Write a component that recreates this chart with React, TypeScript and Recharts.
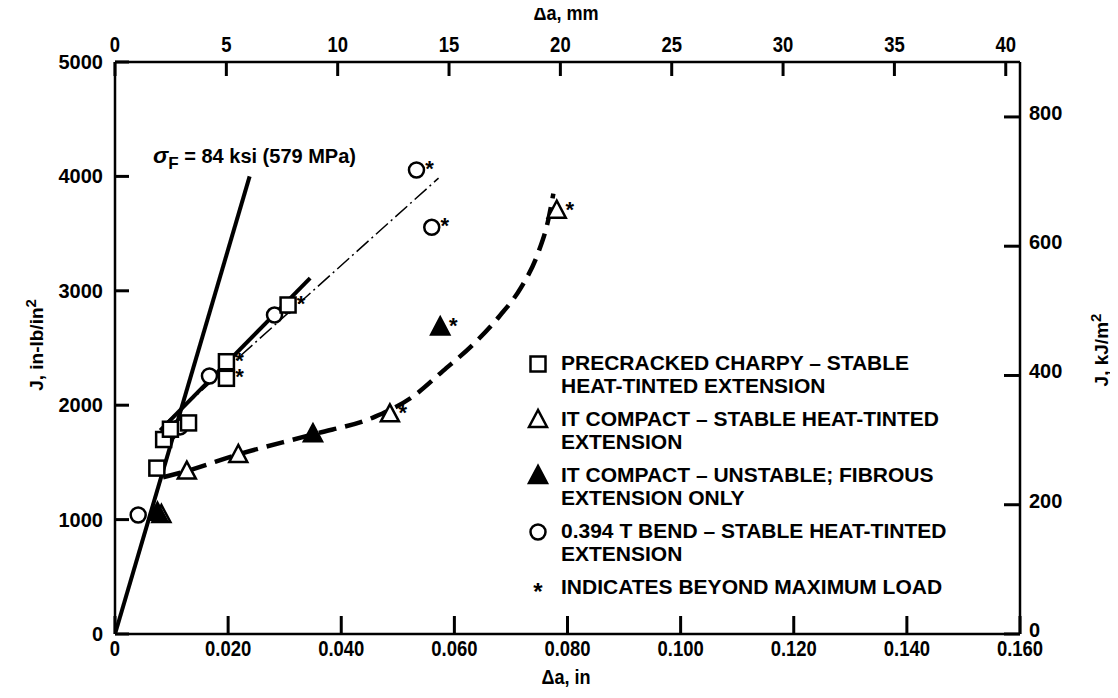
import React from 'react';
import { ComposedChart, Line, Scatter, XAxis, YAxis } from 'recharts';

// crack extension (in) vs J (in-lb/in^2); star = beyond maximum load
const charpy = [
  { x: 0.0074, y: 1450, star: false },
  { x: 0.0086, y: 1700, star: false },
  { x: 0.0098, y: 1790, star: false },
  { x: 0.013, y: 1845, star: false },
  { x: 0.0197, y: 2235, star: true },
  { x: 0.0197, y: 2380, star: true },
  { x: 0.0306, y: 2876, star: true },
];
const compactStable = [
  { x: 0.0082, y: 1040, star: false },
  { x: 0.0127, y: 1420, star: false },
  { x: 0.0218, y: 1565, star: false },
  { x: 0.0486, y: 1920, star: true },
  { x: 0.0781, y: 3700, star: true },
];
const compactUnstable = [
  { x: 0.0075, y: 1060, star: false },
  { x: 0.035, y: 1745, star: false },
  { x: 0.0575, y: 2680, star: true },
];
const tBend = [
  { x: 0.0041, y: 1040, star: false },
  { x: 0.0097, y: 1770, star: false },
  { x: 0.0115, y: 1810, star: false },
  { x: 0.0167, y: 2255, star: false },
  { x: 0.0282, y: 2788, star: true },
  { x: 0.0533, y: 4056, star: true },
  { x: 0.056, y: 3555, star: true },
];

// fitted lines
const blunting = [
  { x: 0, y: 0 },
  { x: 0.0238, y: 4000 },
];
const charpyFit = [
  { x: 0.008, y: 1780 },
  { x: 0.0345, y: 3110 },
];
const tBendFit = [
  { x: 0.0085, y: 1825 },
  { x: 0.0572, y: 3985 },
];
const compactFit = [
  { x: 0.0085, y: 1370 },
  { x: 0.0127, y: 1425 },
  { x: 0.0218, y: 1570 },
  { x: 0.035, y: 1745 },
  { x: 0.046, y: 1900 },
  { x: 0.0525, y: 2070 },
  { x: 0.058, y: 2300 },
  { x: 0.0635, y: 2540 },
  { x: 0.068, y: 2780 },
  { x: 0.0718, y: 3030 },
  { x: 0.0748, y: 3330 },
  { x: 0.0766, y: 3620 },
  { x: 0.0775, y: 3850 },
];

const inTicks = [0, 0.02, 0.04, 0.06, 0.08, 0.1, 0.12, 0.14, 0.16];
const mmTicks = [0, 5, 10, 15, 20, 25, 30, 35, 40];
const jTicks = [0, 1000, 2000, 3000, 4000, 5000];
const kjTicks = [0, 200, 400, 600, 800];

const legendItems = [
  { mark: 'square', lines: ['PRECRACKED CHARPY \u2013 STABLE', 'HEAT-TINTED EXTENSION'] },
  { mark: 'triangle', lines: ['IT COMPACT \u2013 STABLE HEAT-TINTED', 'EXTENSION'] },
  { mark: 'filled', lines: ['IT COMPACT \u2013 UNSTABLE; FIBROUS', 'EXTENSION ONLY'] },
  { mark: 'circle', lines: ['0.394 T BEND \u2013 STABLE HEAT-TINTED', 'EXTENSION'] },
  { mark: 'star', lines: ['INDICATES BEYOND MAXIMUM LOAD'] },
];

const sans = '"Liberation Sans", Arial, Helvetica, sans-serif';
const M = 6;
const frame = { stroke: '#000', strokeWidth: 2.5 };
const tickStroke = { stroke: '#000', strokeWidth: 3 };

const Star = ({ cx, cy }: { cx: number; cy: number }) => (
  <text x={cx + 13} y={cy + 6} textAnchor="middle" fontFamily={sans} fontWeight="bold" fontSize={22} fill="#000">*</text>
);

const Marker = ({ kind, cx, cy }: { kind: string; cx: number; cy: number }) => {
  if (kind === 'square') return <rect x={cx - 7.5} y={cy - 7.5} width={15} height={15} fill="#fff" stroke="#000" strokeWidth={2.5} />;
  if (kind === 'circle') return <circle cx={cx} cy={cy} r={7.5} fill="#fff" stroke="#000" strokeWidth={2.5} />;
  if (kind === 'triangle' || kind === 'filled')
    return (
      <polygon
        points={`${cx},${cy - 10} ${cx - 9},${cy + 7} ${cx + 9},${cy + 7}`}
        fill={kind === 'filled' ? '#000' : '#fff'}
        stroke="#000"
        strokeWidth={2.5}
      />
    );
  return <text x={cx} y={cy + 12} textAnchor="middle" fontFamily={sans} fontWeight="bold" fontSize={24}>*</text>;
};

const shapeFor = (kind: string) => (p: any) => (
  <g>
    <Marker kind={kind} cx={p.cx} cy={p.cy} />
    {p.payload && p.payload.star && <Star cx={p.cx} cy={p.cy} />}
  </g>
);

// condensed bold labels for the two horizontal axes
const CondText = ({ x, y, children }: { x: number; y: number; children: any }) => (
  <text transform={`translate(${x},${y}) scale(0.84,1)`} textAnchor="middle" fontFamily={sans} fontWeight="bold" fontSize={22} fill="#000">
    {children}
  </text>
);

const BottomTick = (p: any) => {
  const { x, y, payload } = p;
  const axisY = y - M + 18;
  const label = payload.value === 0 ? '0' : payload.value.toFixed(3);
  return <CondText x={x} y={axisY + 22}>{label}</CondText>;
};

const TopTick = (p: any) => {
  const { x, y, payload } = p;
  const axisY = y + M - 14;
  return <CondText x={x} y={axisY - 10}>{payload.value}</CondText>;
};

const LeftTick = (p: any) => {
  const { x, y, payload } = p;
  const axisX = x + M - 14;
  return (
    <text x={axisX - 12} y={y + 7} textAnchor="end" fontFamily={sans} fontWeight="bold" fontSize={20} fill="#000">{payload.value}</text>
  );
};

const RightTick = (p: any) => {
  const { x, y, payload } = p;
  const axisX = x - M + 16;
  return (
    <text x={axisX + 9} y={y + 3} textAnchor="start" fontFamily={sans} fontWeight="bold" fontSize={20} fill="#000">{payload.value}</text>
  );
};

const LegendMark = ({ kind }: { kind: string }) => (
  <svg width={30} height={30} style={{ display: 'block', overflow: 'visible', marginTop: -3 }}>
    <Marker kind={kind} cx={13} cy={15} />
  </svg>
);

export default function App() {
  return (
    <div style={{ position: 'relative', width: 1110, height: 690, fontFamily: sans, color: '#000' }}>
      <ComposedChart width={1110} height={690} margin={{ top: 0, right: 0, bottom: 0, left: 0 }}>
        <XAxis xAxisId="in" dataKey="x" type="number" orientation="bottom" domain={[0, 0.16]} ticks={inTicks} interval={0}
          height={64} tickSize={-18} tickMargin={M} tickLine={tickStroke} axisLine={frame} tick={(p: any) => <BottomTick {...p} />} allowDataOverflow />
        <XAxis xAxisId="mm" dataKey="x" type="number" orientation="top" domain={[0, 40.64]} ticks={mmTicks} interval={0}
          height={54} tickSize={-14} tickMargin={M} tickLine={tickStroke} axisLine={frame} tick={(p: any) => <TopTick {...p} />} allowDataOverflow />
        <YAxis yAxisId="J" dataKey="y" type="number" orientation="left" domain={[0, 5000]} ticks={jTicks} interval={0}
          width={107} tickSize={-14} tickMargin={M} tickLine={tickStroke} axisLine={frame} tick={(p: any) => <LeftTick {...p} />} allowDataOverflow />
        <YAxis yAxisId="kJ" dataKey="y" type="number" orientation="right" domain={[0, 885]} ticks={kjTicks} interval={0}
          width={98} tickSize={-16} tickMargin={M} tickLine={tickStroke} axisLine={frame} tick={(p: any) => <RightTick {...p} />} allowDataOverflow />

        <Line xAxisId="in" yAxisId="J" data={blunting} dataKey="y" type="linear" stroke="#000" strokeWidth={4} dot={false} activeDot={false} isAnimationActive={false} />
        <Line xAxisId="in" yAxisId="J" data={tBendFit} dataKey="y" type="linear" stroke="#000" strokeWidth={1.5} strokeDasharray="16 4 2 4" dot={false} activeDot={false} isAnimationActive={false} />
        <Line xAxisId="in" yAxisId="J" data={charpyFit} dataKey="y" type="linear" stroke="#000" strokeWidth={4} dot={false} activeDot={false} isAnimationActive={false} />
        <Line xAxisId="in" yAxisId="J" data={compactFit} dataKey="y" type="monotone" stroke="#000" strokeWidth={4.5} strokeDasharray="18 9" dot={false} activeDot={false} isAnimationActive={false} />

        <Scatter xAxisId="in" yAxisId="J" data={compactStable} shape={shapeFor('triangle')} isAnimationActive={false} />
        <Scatter xAxisId="in" yAxisId="J" data={compactUnstable} shape={shapeFor('filled')} isAnimationActive={false} />
        <Scatter xAxisId="in" yAxisId="J" data={tBend} shape={shapeFor('circle')} isAnimationActive={false} />
        <Scatter xAxisId="in" yAxisId="J" data={charpy} shape={shapeFor('square')} isAnimationActive={false} />
      </ComposedChart>

      {/* axis titles */}
      <div style={{ position: 'absolute', left: 558, top: 5, transform: 'translate(-50%, -50%) scaleX(0.86)', fontWeight: 'bold', fontSize: 21, whiteSpace: 'nowrap' }}>
        {'\u0394a, mm'}
      </div>
      <div style={{ position: 'absolute', left: 558, top: 669, transform: 'translate(-50%, -50%) scaleX(0.86)', fontWeight: 'bold', fontSize: 21, whiteSpace: 'nowrap' }}>
        {'\u0394a, in'}
      </div>
      <div style={{ position: 'absolute', left: 27, top: 337, transform: 'translate(-50%, -50%) rotate(-90deg)', fontWeight: 'bold', fontSize: 19, whiteSpace: 'nowrap' }}>
        J, in-lb/in<sup style={{ fontSize: 15 }}>2</sup>
      </div>
      <div style={{ position: 'absolute', left: 1092, top: 342, transform: 'translate(-50%, -50%) rotate(-90deg)', fontWeight: 'bold', fontSize: 19, whiteSpace: 'nowrap' }}>
        J, kJ/m<sup style={{ fontSize: 15 }}>2</sup>
      </div>

      {/* flow stress annotation */}
      <div style={{ position: 'absolute', left: 145, top: 134, fontWeight: 'bold', fontSize: 20, whiteSpace: 'nowrap' }}>
        <span style={{ fontStyle: 'italic', fontSize: 23 }}>{'\u03c3'}</span>
        <span style={{ fontSize: 17, position: 'relative', top: 6 }}>F</span>
        <span>{' = 84 ksi (579 MPa)'}</span>
      </div>

      {/* legend */}
      <div style={{ position: 'absolute', left: 517, top: 344, display: 'flex', flexDirection: 'column', gap: 11 }}>
        {legendItems.map((item) => (
          <div key={item.lines[0]} style={{ display: 'flex', alignItems: 'flex-start' }}>
            <LegendMark kind={item.mark} />
            <div style={{ fontWeight: 'bold', fontSize: 21, lineHeight: '22.5px', marginLeft: 6, whiteSpace: 'nowrap' }}>
              {item.lines.map((l) => (
                <div key={l}>{l}</div>
              ))}
            </div>
          </div>
        ))}
      </div>
    </div>
  );
}
